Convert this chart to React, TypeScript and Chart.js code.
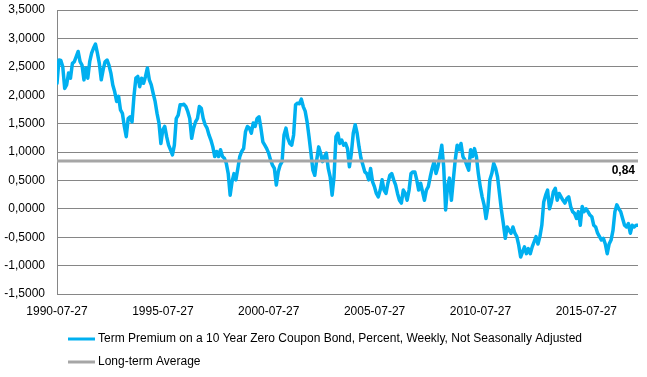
import React, { useEffect, useRef } from 'react';
import { Chart, registerables } from 'chart.js';

Chart.register(...registerables);

// ---- Data ----
const SERIES_LABEL = 'Term Premium on a 10 Year Zero Coupon Bond, Percent, Weekly, Not Seasonally Adjusted';
const AVG_LABEL = 'Long-term Average';
const LONG_TERM_AVERAGE = 0.84;

// x tick labels and their position (years after 1990-07-27)
const TICK_LABELS = ['1990-07-27', '1995-07-27', '2000-07-27', '2005-07-27', '2010-07-27', '2015-07-27'];
const TICK_YEARS = [0, 5, 10, 15, 20, 25];
// total time span covered by the series (1990-07-27 .. early 2018)
const SPAN_YEARS = 27.44;

const Y_MIN = -1.5;
const Y_MAX = 3.5;
const Y_STEP = 0.5;

const TP_1990_1996 = [
  2.21, 2.62, 2.61, 2.5, 2.12, 2.18, 2.39, 2.3, 2.56, 2.59, 2.68, 2.77, 2.59, 2.53, 2.27, 2.48,
  2.3, 2.59, 2.74, 2.83, 2.9, 2.74, 2.56, 2.27, 2.45, 2.59, 2.62, 2.53, 2.39, 2.18, 2.06, 1.89,
  1.98, 1.74, 1.68, 1.45, 1.27, 1.59, 1.62, 1.53, 1.98, 2.3, 2.33, 2.15, 2.3, 2.21, 2.33, 2.48,
  2.27, 2.18, 2.03, 1.89, 1.68, 1.51, 1.15, 1.39, 1.45, 1.27, 1.12, 1.04, 0.95, 1.12, 1.59, 1.65,
  1.83,
];
const TP_1996_2002 = [
  1.83, 1.84, 1.8, 1.71, 1.59, 1.24, 1.42, 1.53, 1.59, 1.8, 1.77, 1.59, 1.48, 1.42, 1.3, 1.21,
  1.09, 0.92, 1.01, 0.92, 1.04, 0.92, 0.89, 0.8, 0.62, 0.24, 0.48, 0.62, 0.51, 0.71, 0.92, 1.01,
  1.06, 1.36, 1.45, 1.42, 1.33, 1.51, 1.45, 1.59, 1.62, 1.42, 1.18, 1.12, 1.06, 0.98, 0.86, 0.77,
  0.71, 0.42, 0.65, 0.77, 0.83, 1.3, 1.42, 1.24, 1.15, 1.12, 1.3, 1.83, 1.86,
];
const TP_2002_2007 = [
  1.85, 1.93, 1.8, 1.72, 1.53, 1.27, 0.98, 0.68, 0.59, 0.86, 1.09, 0.98, 0.83, 0.92, 0.98, 0.71,
  0.56, 0.24, 0.56, 1.27, 1.33, 1.15, 1.21, 1.12, 1.15, 1.06, 0.74, 0.98, 1.33, 1.48, 1.33, 1.09,
  0.89, 0.77, 0.65, 0.62, 0.51, 0.71, 0.48, 0.39, 0.27, 0.21, 0.33, 0.51, 0.33, 0.27, 0.45, 0.59,
  0.62, 0.51, 0.42, 0.27, 0.15, 0.1, 0.33, 0.27, 0.15, 0.33, 0.62, 0.65,
];
const TP_2007_2013 = [
  0.65, 0.51, 0.33, 0.45, 0.3, 0.15, 0.33, 0.39, 0.56, 0.71, 0.83, 0.62, 0.74, 0.92, 1.12, 0.74,
  -0.02, 0.39, 0.54, 0.15, 0.51, 0.86, 1.12, 1.04, 1.15, 0.92, 0.86, 0.77, 0.68, 1.04, 0.92, 1.06,
  0.92, 0.62, 0.39, 0.21, 0.07, -0.17, 0.04, 0.51, 0.62, 0.8, 0.71, 0.56, 0.27, -0.02, -0.26, -0.52,
  -0.32, -0.38, -0.43, -0.32, -0.43, -0.49, -0.64, -0.85, -0.76, -0.67, -0.79, -0.7,
];
const TP_2013_2018 = [
  -0.79, -0.67, -0.58, -0.49, -0.62, -0.49, -0.29, 0.12, 0.24, 0.33, 0.0, 0.12, 0.3, 0.36, 0.15, 0.27,
  0.21, 0.15, 0.1, 0.18, 0.21, 0.04, -0.05, -0.08, -0.17, -0.05, -0.29, 0.04, -0.05, 0.0, -0.05, -0.11,
  -0.14, -0.29, -0.32, -0.43, -0.49, -0.55, -0.52, -0.62, -0.79, -0.62, -0.55, -0.38, -0.05, 0.07, 0.0, -0.05,
  -0.17, -0.29, -0.32, -0.26, -0.43, -0.29, -0.32, -0.29, -0.29,
];
const TERM_PREMIUM = [...TP_1990_1996, ...TP_1996_2002, ...TP_2002_2007, ...TP_2007_2013, ...TP_2013_2018];

// ---- Styling ----
const FONT_FAMILY = '"Liberation Sans", Arial, sans-serif';
const BLUE = '#00B0F0';
const GREY = '#A6A6A6';
const GRID = '#868686';
const TEXT = '#000000';

const fmt = (v: number, d: number) => v.toFixed(d).replace('.', ',');

const overlayPlugin = {
  id: 'overlay',
  afterDraw(chart: any) {
    const { ctx, chartArea, scales } = chart;
    ctx.save();
    // average value label
    const yAvg = scales.y.getPixelForValue(LONG_TERM_AVERAGE);
    ctx.font = `bold 12px ${FONT_FAMILY}`;
    ctx.fillStyle = TEXT;
    ctx.textAlign = 'right';
    ctx.textBaseline = 'middle';
    ctx.fillText(fmt(LONG_TERM_AVERAGE, 2), chartArea.right - 3, yAvg + 10);
    // legend (vertical list)
    ctx.font = `12px ${FONT_FAMILY}`;
    ctx.textAlign = 'left';
    chart.data.datasets.forEach((ds: any, i: number) => {
      const y = chartArea.bottom + 45 + i * 23;
      ctx.strokeStyle = ds.borderColor;
      ctx.lineWidth = 3;
      ctx.beginPath();
      ctx.moveTo(68, y);
      ctx.lineTo(95, y);
      ctx.stroke();
      ctx.fillStyle = TEXT;
      ctx.fillText(ds.label, 98, y);
    });
    ctx.restore();
  },
};

export default function App() {
  const canvasRef = useRef<HTMLCanvasElement | null>(null);

  useEffect(() => {
    const canvas = canvasRef.current;
    if (!canvas) return;
    const n = TERM_PREMIUM.length;
    const tpData = TERM_PREMIUM.map((v, i) => ({ x: (i * SPAN_YEARS) / (n - 1), y: v }));
    const avgData = [
      { x: 0, y: LONG_TERM_AVERAGE },
      { x: SPAN_YEARS, y: LONG_TERM_AVERAGE },
    ];

    const chart = new Chart(canvas, {
      type: 'line',
      data: {
        datasets: [
          {
            label: SERIES_LABEL,
            data: tpData,
            borderColor: BLUE,
            backgroundColor: BLUE,
            borderWidth: 3.5,
            pointRadius: 0,
            tension: 0,
            borderJoinStyle: 'round',
            borderCapStyle: 'round',
            order: 1,
          },
          {
            label: AVG_LABEL,
            data: avgData,
            borderColor: GREY,
            backgroundColor: GREY,
            borderWidth: 3,
            pointRadius: 0,
            order: 0,
          },
        ],
      },
      options: {
        responsive: false,
        animation: false,
        events: [],
        layout: { padding: { top: 10, right: 9, left: 0, bottom: 0 } },
        plugins: {
          legend: { display: false },
          tooltip: { enabled: false },
        },
        scales: {
          x: {
            type: 'linear',
            min: 0,
            max: SPAN_YEARS,
            grid: { display: false, drawTicks: false },
            border: { display: false },
            afterBuildTicks: (s: any) => {
              s.ticks = TICK_YEARS.map((v) => ({ value: v }));
            },
            afterFit: (s: any) => {
              s.height = 83;
              s.paddingLeft = 0;
              s.paddingRight = 0;
              s.paddingTop = 0;
              s.paddingBottom = 0;
            },
            ticks: {
              autoSkip: false,
              maxRotation: 0,
              padding: 10,
              color: TEXT,
              font: { family: FONT_FAMILY, size: 12 },
              callback: (v: any) => TICK_LABELS[TICK_YEARS.indexOf(Number(v))] ?? '',
            },
          },
          y: {
            min: Y_MIN,
            max: Y_MAX,
            grid: { color: GRID, lineWidth: 1, drawTicks: false },
            border: { color: GRID, width: 1 },
            afterFit: (s: any) => {
              s.width = 57;
              s.paddingTop = 0;
              s.paddingBottom = 0;
              s.paddingLeft = 0;
              s.paddingRight = 0;
            },
            ticks: {
              stepSize: Y_STEP,
              padding: 12,
              color: TEXT,
              font: { family: FONT_FAMILY, size: 12 },
              callback: (v: any) => fmt(Number(v), 4),
            },
          },
        },
      },
      plugins: [overlayPlugin],
    } as any);

    return () => chart.destroy();
  }, []);

  return (
    <div style={{ position: 'fixed', left: 0, top: 0, width: 647, height: 377, background: '#fff' }}>
      <canvas ref={canvasRef} width={647} height={377} style={{ display: 'block' }} />
    </div>
  );
}
